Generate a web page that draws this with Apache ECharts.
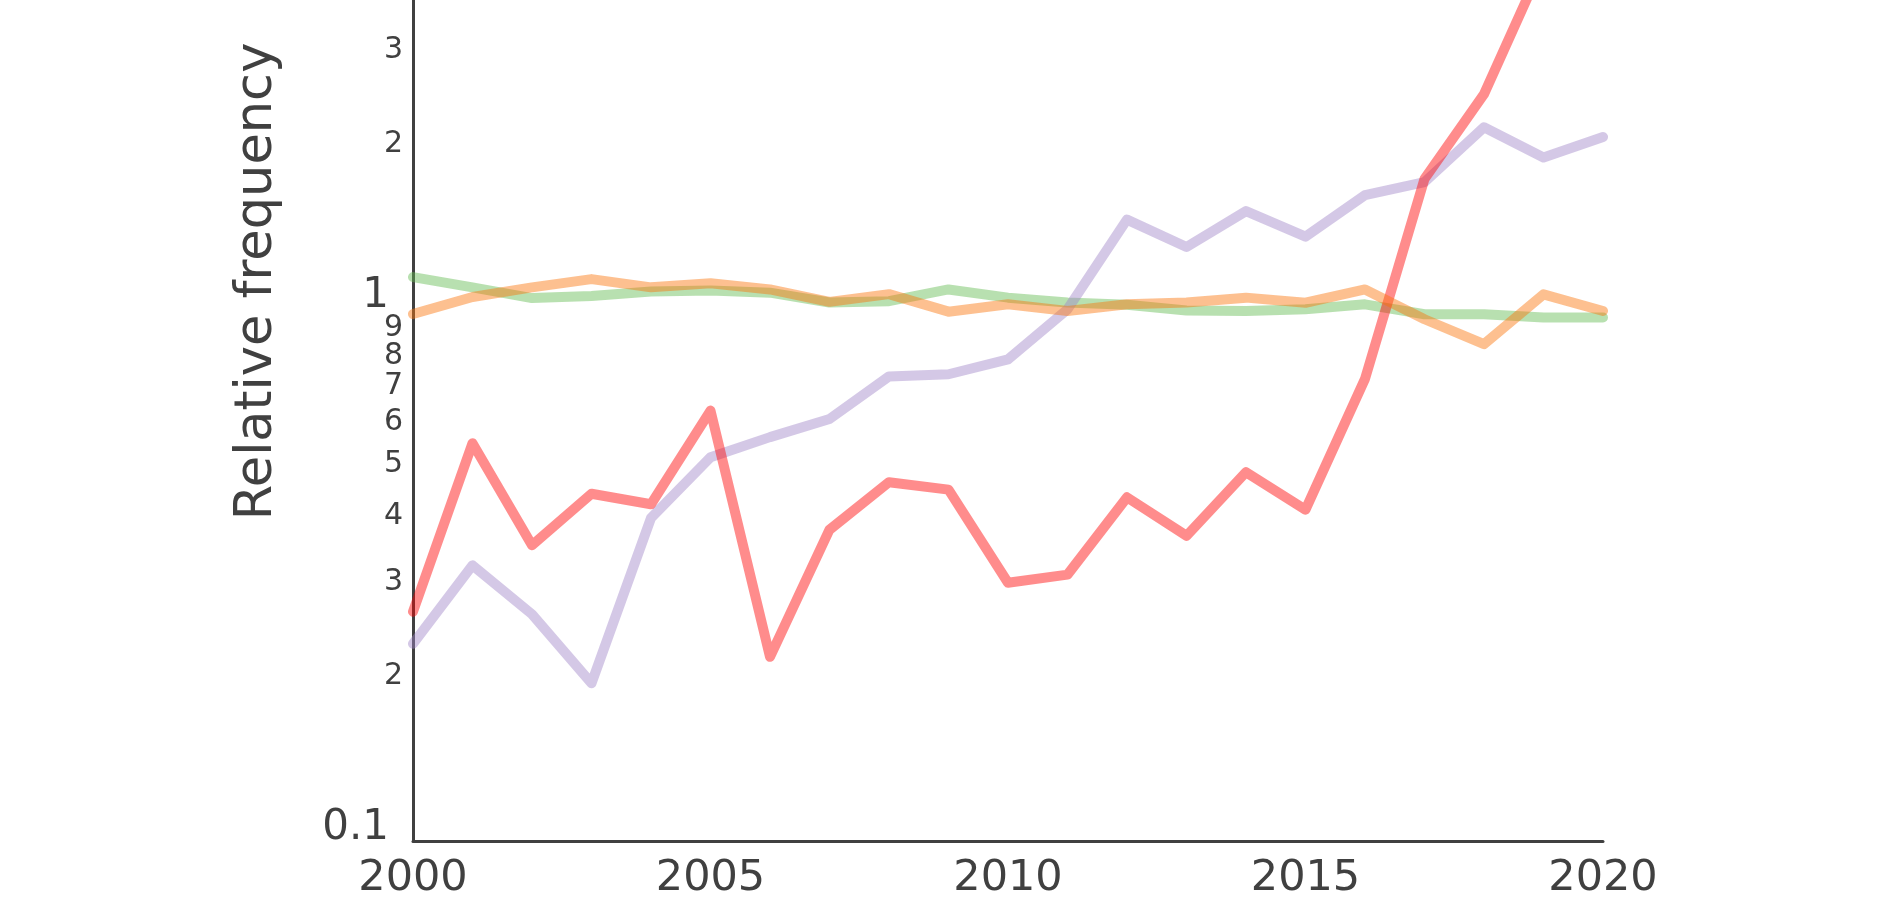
<!DOCTYPE html>
<html>
<head>
<meta charset="utf-8">
<script src="https://cdn.jsdelivr.net/npm/echarts@6/dist/echarts.min.js"></script>
<style>
html,body{margin:0;padding:0;background:#fff;overflow:hidden;width:1900px;height:900px;}
#chart{position:absolute;left:0;top:-322px;width:1900px;height:1222px;}
</style>
</head>
<body>
<div id="chart"></div>
<script>
// ---- data ----
var years = [2000,2001,2002,2003,2004,2005,2006,2007,2008,2009,2010,2011,2012,2013,2014,2015,2016,2017,2018,2019,2020];
var redValues    = [0.27,0.56,0.36,0.45,0.43,0.645,0.222,0.385,0.473,0.458,0.306,0.317,0.443,0.375,0.494,0.42,0.74,1.76,2.54,4.5,5.2];
var purpleValues = [0.235,0.33,0.267,0.198,0.405,0.527,0.575,0.622,0.748,0.755,0.805,1.0,1.475,1.31,1.53,1.37,1.64,1.735,2.2,1.93,2.11];
var greenValues  = [1.15,1.10,1.05,1.06,1.08,1.085,1.075,1.03,1.036,1.09,1.052,1.03,1.02,0.995,0.993,1.0,1.022,0.979,0.979,0.965,0.965];
var orangeValues = [0.98,1.055,1.10,1.14,1.10,1.12,1.09,1.033,1.068,0.99,1.022,0.993,1.022,1.03,1.052,1.029,1.09,0.958,0.86,1.067,0.993];

var yTickValues = [0.1,0.2,0.3,0.4,0.5,0.6,0.7,0.8,0.9,1,2,3];
var yTickLabels = ['0.1','2','3','4','5','6','7','8','9','1','2','3'];
var yTickBig    = [true,false,false,false,false,false,false,false,false,true,false,false];
var yMin = 0.1, yMax = 15.4;
var xMin = 2000, xMax = 2020, xInterval = 5;
var yAxisName = 'Relative frequency';

function toLog(v){ return Math.log10(v); }
function seriesData(vals){ return years.map(function(y,i){ return [y, toLog(vals[i])]; }); }

var textColor = '#404040';
var font = 'DejaVu Sans';

function mkLine(name, vals, color){
  return {
    name: name, type: 'line', data: seriesData(vals),
    showSymbol: false, symbol: 'none',
    lineStyle: { color: color, width: 10, cap: 'round', join: 'round' },
    itemStyle: { color: color },
    emphasis: { disabled: true }
  };
}

var chart = echarts.init(document.getElementById('chart'));
chart.setOption({
  animation: false,
  backgroundColor: '#ffffff',
  grid: { left: 413, right: 297, top: 0, bottom: 58, containLabel: false },
  xAxis: {
    type: 'value', min: xMin, max: xMax, interval: xInterval,
    axisLine: { show: true, onZero: false, lineStyle: { color: textColor, width: 3 } },
    axisTick: { show: false },
    splitLine: { show: false },
    axisLabel: { color: textColor, fontFamily: font, fontSize: 43, margin: 16,
      formatter: function(v){ return String(v); } }
  },
  yAxis: {
    type: 'value', min: toLog(yMin), max: toLog(yMax),
    name: yAxisName, nameLocation: 'middle', nameGap: 130, nameRotate: 90,
    nameTextStyle: { color: textColor, fontFamily: font, fontSize: 51, padding: [0, 44, 0, 0] },
    axisLine: { show: true, onZero: false, lineStyle: { color: textColor, width: 3 } },
    axisTick: { show: false },
    splitLine: { show: false },
    axisLabel: {
      customValues: yTickValues.map(toLog),
      margin: 10,
      verticalAlign: 'bottom',
      color: textColor, fontFamily: font,
      formatter: function(v){
        for (var i = 0; i < yTickValues.length; i++) {
          if (Math.abs(toLog(yTickValues[i]) - v) < 1e-6) {
            return '{' + (yTickBig[i] ? 'big' : 'small') + '|' + yTickLabels[i] + '}';
          }
        }
        return '';
      },
      rich: {
        big: { fontSize: 42, fontFamily: font, color: textColor, lineHeight: 26, padding: [0, 14, 0, 0] },
        small: { fontSize: 30, fontFamily: font, color: textColor, lineHeight: 10 }
      }
    }
  },
  series: [
    mkLine('Green', greenValues, 'rgba(97,186,79,0.45)'),
    mkLine('Purple', purpleValues, 'rgba(159,133,199,0.45)'),
    mkLine('Red', redValues, 'rgba(255,0,0,0.45)'),
    mkLine('Orange', orangeValues, 'rgba(251,115,8,0.45)')
  ]
});
</script>
</body>
</html>
